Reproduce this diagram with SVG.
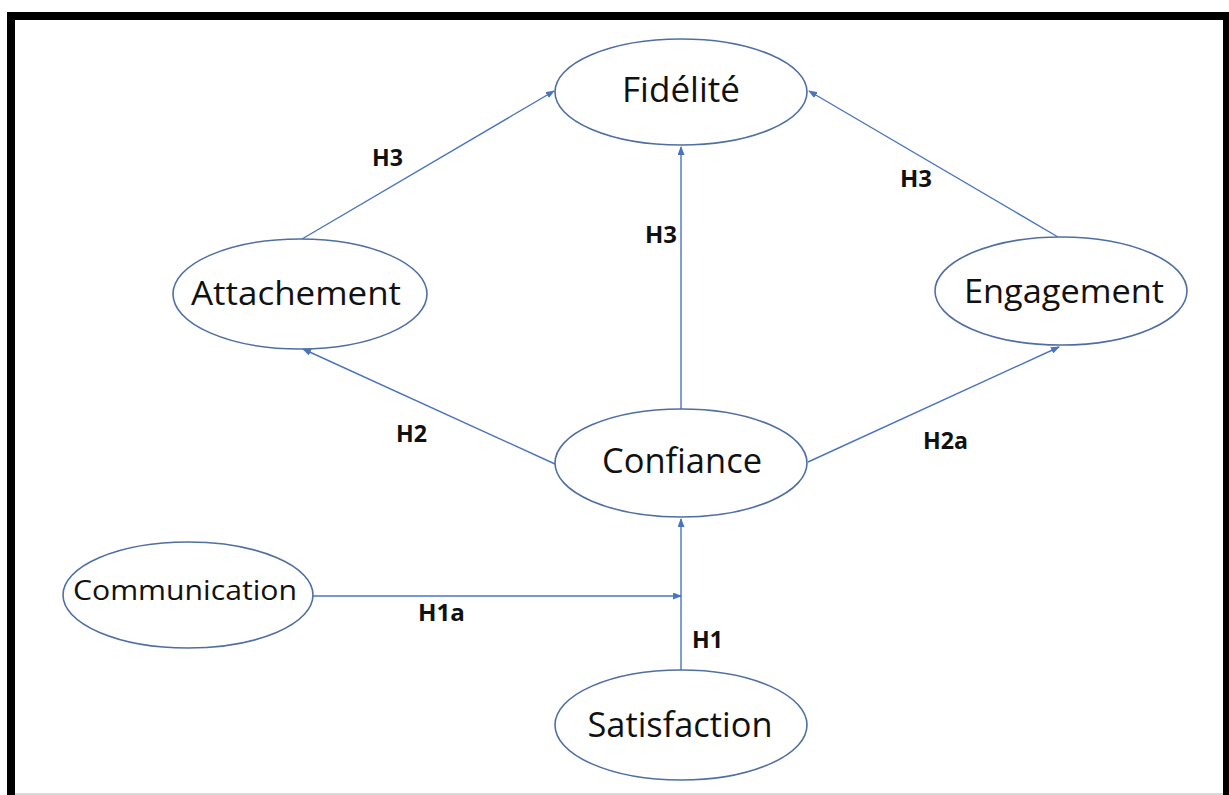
<svg xmlns="http://www.w3.org/2000/svg" width="1229" height="795" viewBox="0 0 1229 795">
  <style>
    .node ellipse { fill: #ffffff; stroke: #4f6fa3; stroke-width: 1.6; }
    .node text { font-family: "Open Sans", "Liberation Sans", Arial, sans-serif; font-size: 34px; fill: #111111; text-anchor: middle; }
    .conn { stroke: #4a74c0; stroke-width: 1.4; fill: none; marker-end: url(#arrow); }
    .lbl { font-family: "Open Sans", "Liberation Sans", Arial, sans-serif; font-weight: bold; font-size: 23px; fill: #111111; }
  </style>
  <defs>
    <marker id="arrow" markerUnits="userSpaceOnUse" markerWidth="9" markerHeight="7" refX="8" refY="3.5" orient="auto">
      <path d="M0,0 L9,3.5 L0,7 Z" fill="#4a74c0"/>
    </marker>
  </defs>

  <rect width="1229" height="795" fill="#ffffff"/>

  <!-- frame -->
  <path d="M11,795 V16 H1227 V795" fill="none" stroke="#000000" stroke-width="8"/>
  <line x1="15" y1="794" x2="1223" y2="794" stroke="#cccccc" stroke-width="1.5"/>

  <!-- connectors -->
  <g id="connectors">
    <path class="conn" d="M302,239 L554,91"/>
    <path class="conn" d="M1058,237 L809,91"/>
    <path class="conn" d="M681,409 L681,147"/>
    <path class="conn" d="M555,464 L303,349"/>
    <path class="conn" d="M808,462 L1059,347"/>
    <path class="conn" d="M681,670 L681,519"/>
    <path class="conn" d="M313,596 L681,596"/>
    <text class="lbl" x="372" y="166" textLength="31" lengthAdjust="spacingAndGlyphs">H3</text>
    <text class="lbl" x="645" y="243" textLength="32" lengthAdjust="spacingAndGlyphs">H3</text>
    <text class="lbl" x="900" y="187" textLength="32" lengthAdjust="spacingAndGlyphs">H3</text>
    <text class="lbl" x="396" y="442" textLength="31" lengthAdjust="spacingAndGlyphs">H2</text>
    <text class="lbl" x="923" y="449" textLength="45" lengthAdjust="spacingAndGlyphs">H2a</text>
    <text class="lbl" x="418" y="621" textLength="47" lengthAdjust="spacingAndGlyphs">H1a</text>
    <text class="lbl" x="692" y="648" textLength="31" lengthAdjust="spacingAndGlyphs">H1</text>
  </g>

  <!-- nodes -->
  <g id="fidelite" class="node">
    <ellipse cx="681" cy="92" rx="126" ry="53"/>
    <text x="681" y="102" textLength="118" lengthAdjust="spacingAndGlyphs">Fidélité</text>
  </g>
  <g id="attachement" class="node">
    <ellipse cx="300" cy="294" rx="127" ry="55"/>
    <text x="296" y="305" style="font-size:32px" textLength="210" lengthAdjust="spacingAndGlyphs">Attachement</text>
  </g>
  <g id="engagement" class="node">
    <ellipse cx="1061" cy="291" rx="126" ry="54"/>
    <text x="1064" y="303" style="font-size:32px" textLength="200" lengthAdjust="spacingAndGlyphs">Engagement</text>
  </g>
  <g id="confiance" class="node">
    <ellipse cx="681" cy="463" rx="126" ry="54"/>
    <text x="682" y="473" textLength="160" lengthAdjust="spacingAndGlyphs">Confiance</text>
  </g>
  <g id="communication" class="node">
    <ellipse cx="188" cy="595" rx="125" ry="53"/>
    <text x="185" y="600" style="font-size:27px" textLength="224" lengthAdjust="spacingAndGlyphs">Communication</text>
  </g>
  <g id="satisfaction" class="node">
    <ellipse cx="681" cy="725" rx="126" ry="55"/>
    <text x="680" y="737" textLength="185" lengthAdjust="spacingAndGlyphs">Satisfaction</text>
  </g>
</svg>
